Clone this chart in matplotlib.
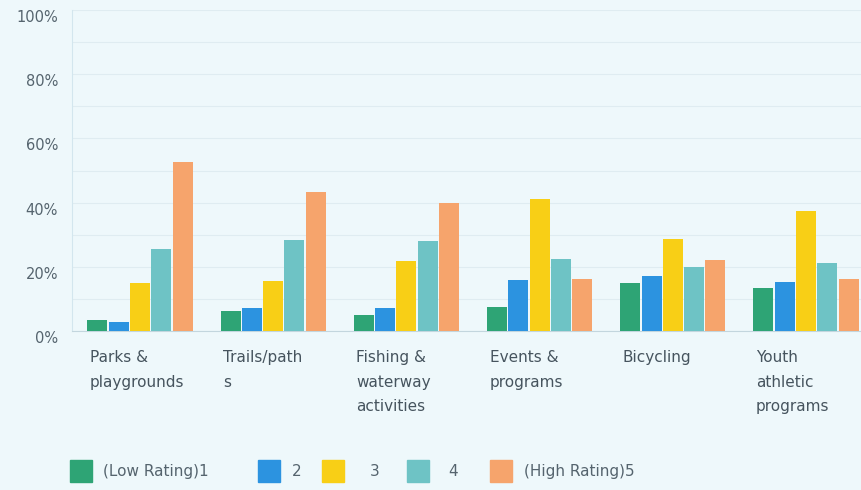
import matplotlib
matplotlib.use("Agg")
import matplotlib.pyplot as plt
import matplotlib.patches as mpatches
import numpy as np

categories = ["Parks &\nplaygrounds", "Trails/path\ns", "Fishing &\nwaterway\nactivities",
              "Events &\nprograms", "Bicycling", "Youth\nathletic\nprograms"]
series_names = ["(Low Rating)1", "2", "3", "4", "(High Rating)5"]
rating1 = [3.4, 6.3, 5.0, 7.4, 15.0, 13.4]
rating2 = [2.9, 7.1, 7.3, 15.9, 17.0, 15.2]
rating3 = [14.9, 15.6, 21.8, 41.0, 28.8, 37.4]
rating4 = [25.4, 28.3, 27.9, 22.5, 19.9, 21.3]
rating5 = [52.6, 43.3, 39.8, 16.1, 22.1, 16.3]
yticks = [0, 20, 40, 60, 80, 100]
ytick_labels = ["0%", "20%", "40%", "60%", "80%", "100%"]
colors = ["#2ea475", "#2c93e0", "#f8cf16", "#6ec3c5", "#f6a46c"]

series = [rating1, rating2, rating3, rating4, rating5]
bg = "#eef8fb"

fig = plt.figure(figsize=(8.62, 4.90), dpi=100)
fig.patch.set_facecolor(bg)
ax = fig.add_axes([72/862, 1-331/490, 1-72/862, (331-10)/490])
ax.set_facecolor(bg)

x = np.arange(len(categories))
step = 0.16
width = 0.15
for k, (vals, c) in enumerate(zip(series, colors)):
    ax.bar(x + (k-2)*step, vals, width=width, color=c, zorder=3)

ax.set_ylim(0, 100)
ax.set_xlim(-0.51, 5.42)
ax.set_yticks(yticks)
ax.set_yticklabels(ytick_labels, fontsize=10.5, color="#55646e")
ax.set_yticks(np.arange(10, 100, 10), minor=True)
ax.grid(axis="y", which="both", color="#dfecf1", linewidth=0.8, zorder=0)
ax.tick_params(axis="y", which="both", length=0, pad=10)
for lbl in ax.get_yticklabels():
    lbl.set_va("top")
ax.set_xticks([])
for s in ["top", "right"]:
    ax.spines[s].set_visible(False)
ax.spines["left"].set_color("#d3e6ee")
ax.spines["bottom"].set_color("#c3d6de")

# category labels, left aligned at group start
for i, cat in enumerate(categories):
    ax.text(i - 2*step - width/2 + 0.02, -6, cat, ha="left", va="top",
            fontsize=11, color="#46545e", linespacing=1.8,
            transform=ax.transData, clip_on=False)

# legend
items = [(70, 103), (258, 292), (322, 370), (407, 448), (490, 524)]
for (sx, tx), name, c in zip(items, series_names, colors):
    fig.patches.append(mpatches.Rectangle((sx/862, 1-482/490), 22/862, 22/490,
                                          transform=fig.transFigure, color=c))
    fig.text(tx/862, 1-471/490, name, ha="left", va="center", fontsize=11, color="#55646e")

fig.savefig("out.png", dpi=100, facecolor=bg)
